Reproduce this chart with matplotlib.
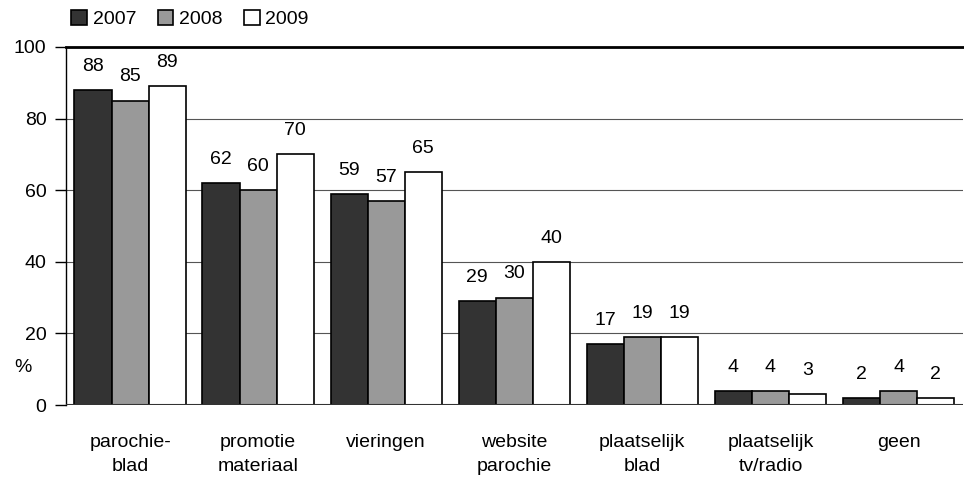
import matplotlib
matplotlib.use('Agg')
import matplotlib.pyplot as plt
import numpy as np
from matplotlib.patches import Patch

plt.rcParams['font.family'] = ['Liberation Sans', 'DejaVu Sans']

categories = ['parochie-\nblad', 'promotie\nmateriaal', 'vieringen', 'website\nparochie',
              'plaatselijk\nblad', 'plaatselijk\ntv/radio', 'geen']
years = ['2007', '2008', '2009']
v2007 = [88, 62, 59, 29, 17, 4, 2]
v2008 = [85, 60, 57, 30, 19, 4, 4]
v2009 = [89, 70, 65, 40, 19, 3, 2]
colors = ['#333333', '#999999', '#ffffff']
FS = 14

fig = plt.figure(figsize=(9.64, 4.84), dpi=100)
ax = fig.add_axes([0.0685, 0.163, 0.93, 0.74])

x = np.arange(len(categories))
w = 0.29
for i, (vals, c) in enumerate(zip([v2007, v2008, v2009], colors)):
    xs = x + (i - 1) * w
    ax.bar(xs, vals, width=w, color=c, edgecolor='black', linewidth=1.2, zorder=3)
    for xi, v in zip(xs, vals):
        ax.annotate(str(v), (xi, v), xytext=(0, 11), textcoords='offset points',
                    ha='center', va='bottom', fontsize=FS)

ax.set_xlim(-0.5, 6.5)
ax.set_ylim(0, 100)
ax.set_yticks(range(0, 101, 20))
ax.tick_params(axis='y', labelsize=FS, length=8, width=1, direction='out', pad=6)
ax.tick_params(axis='x', length=0, labelsize=FS, pad=21)
ax.set_xticks(x)
ax.set_xticklabels(categories, linespacing=1.55)
ax.yaxis.grid(True, color='#555555', linewidth=0.8, zorder=0)
for s in ['right', 'bottom']:
    ax.spines[s].set_visible(False)
ax.spines['top'].set_linewidth(2)
ax.spines['left'].set_linewidth(1)
ax.axhline(0, color='#333333', linewidth=1.5, zorder=4)

fig.text(0.024, 0.24, '%', fontsize=FS, ha='center', va='center')

handles = [Patch(facecolor=c, edgecolor='black', linewidth=1.2) for c in colors]
fig.legend(handles, years, loc='upper left', bbox_to_anchor=(0.066, 0.995), ncol=3,
           frameon=False, fontsize=FS, handlelength=0.8, handleheight=0.8,
           handletextpad=0.3, columnspacing=1.1, borderaxespad=0)

plt.savefig('out.png', dpi=100)
